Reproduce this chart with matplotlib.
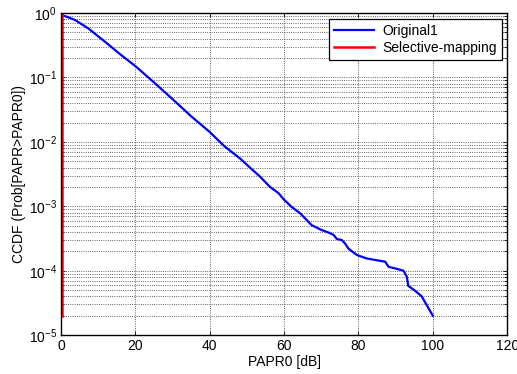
import matplotlib
matplotlib.use("Agg")
import matplotlib.pyplot as plt
from matplotlib.ticker import LogLocator, FixedLocator

plt.rcParams["font.family"] = ["Liberation Sans", "DejaVu Sans"]
plt.rcParams["mathtext.default"] = "regular"

# CCDF of PAPR
orig_x = [0, 1.5, 3.8, 7.3, 11.8, 16.3, 20.2, 25.3, 30.2, 35, 39.9, 44, 48.2,
          51, 53.5, 56.2, 58.5, 59.8, 62, 64.3, 66, 67.4, 70, 72, 73.3, 74.2,
          75.5, 76.5, 77.3, 79.6, 82.2, 85, 87.2, 88.1, 90, 92.1, 93.0, 93.4,
          95, 97.0, 100]
orig_y = [0.93, 0.88, 0.78, 0.58, 0.36, 0.22, 0.147, 0.081, 0.045, 0.025,
          0.0144, 0.0085, 0.0055, 0.0039, 0.0029, 0.002, 0.0016, 0.0013,
          0.00098, 0.00078, 0.00062, 0.00051, 0.00043, 0.00039, 0.00036,
          0.00031, 0.0003, 0.00026, 0.00022, 0.000175, 0.000155, 0.000145,
          0.000138, 0.000115, 0.000108, 0.0001, 8.1e-5, 5.8e-5, 5e-5, 4e-5,
          2e-5]
slm_x = [0.2, 0.2]
slm_y = [1.0, 2e-5]

FS = 10

fig = plt.figure(figsize=(5.17, 3.74), dpi=100)
ax = fig.add_axes([0.118, 0.104, 0.863, 0.861])
ax.semilogy(orig_x, orig_y, color="#0000ff", lw=1.6, label="Original1")
ax.semilogy(slm_x, slm_y, color="#ff0000", lw=1.8, label="Selective-mapping")

ax.set_xlim(0, 120)
ax.set_ylim(1e-5, 1)
ax.xaxis.set_major_locator(FixedLocator([0, 20, 40, 60, 80, 100, 120]))
ax.yaxis.set_major_locator(LogLocator(base=10, numticks=10))
ax.yaxis.set_minor_locator(LogLocator(base=10, subs=range(2, 10), numticks=20))
ax.grid(True, which="both", linestyle=":", color="0.2", lw=0.6)
ax.tick_params(which="both", direction="in", top=True, right=True, labelsize=FS)
ax.tick_params(which="major", length=3, width=0.6, pad=3)
ax.tick_params(which="minor", length=2, width=0.6)
for s in ax.spines.values():
    s.set_linewidth(1.0)

ax.set_xlabel("PAPR0 [dB]", fontsize=FS, labelpad=1)
ax.set_ylabel("CCDF (Prob[PAPR>PAPR0])", fontsize=FS, labelpad=2)

leg = ax.legend(loc="upper right", fontsize=FS, fancybox=False, framealpha=1,
                edgecolor="black", handlelength=2.9, borderaxespad=0.4,
                borderpad=0.35, labelspacing=0.25, handletextpad=0.6)
leg.get_frame().set_linewidth(0.9)

fig.savefig("out.png", dpi=100)
